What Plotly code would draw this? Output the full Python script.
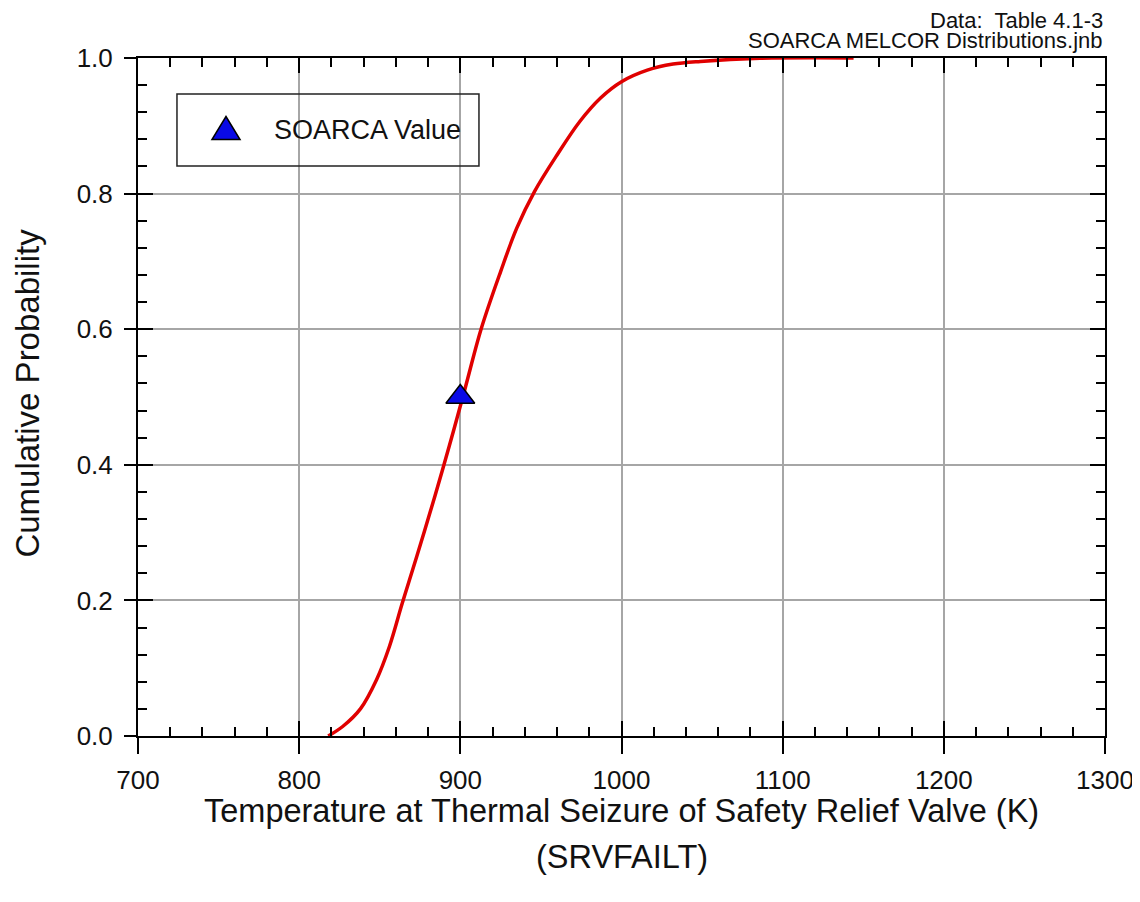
import plotly.graph_objects as go

# (temperature in K, cumulative probability)
temps = [818, 827, 838, 848, 856, 864, 873, 881, 889, 896, 903, 913, 925, 935, 946, 960,
         974, 987, 1000, 1016, 1032, 1049, 1086, 1144]
probs = [0.0, 0.014, 0.040, 0.083, 0.132, 0.196, 0.265, 0.328, 0.393, 0.452, 0.513, 0.601,
         0.685, 0.749, 0.803, 0.857, 0.906, 0.941, 0.965, 0.982, 0.991, 0.995, 0.9995, 1.0]

soarca_temp = [900]
soarca_prob = [0.5]

x_ticks = [700, 800, 900, 1000, 1100, 1200, 1300]
y_ticks = [0.0, 0.2, 0.4, 0.6, 0.8, 1.0]

FONT = "Arial, Liberation Sans, sans-serif"
TXT = "#111"
BLUE = "#0a0ae6"

fig = go.Figure()

fig.add_trace(go.Scatter(
    x=temps, y=probs, mode="lines",
    line=dict(color="#e00000", width=3.5, shape="spline", smoothing=1.0),
    showlegend=False, hoverinfo="skip",
))

fig.add_trace(go.Scatter(
    x=soarca_temp, y=soarca_prob, mode="markers", name="SOARCA Value",
    marker=dict(symbol="triangle-up", size=25, color=BLUE,
                line=dict(color="black", width=1.5)),
    showlegend=False,
))

# frame, inside ticks, grid
fig.update_xaxes(
    range=[700, 1300], tickvals=x_ticks, showticklabels=False, automargin=False,
    ticks="inside", ticklen=15, tickwidth=2, tickcolor="black",
    minor=dict(dtick=20, ticks="inside", ticklen=9, tickwidth=1.5, tickcolor="black", showgrid=False),
    showline=True, linecolor="black", linewidth=2, mirror="allticks",
    showgrid=True, gridcolor="#a6a6a6", gridwidth=1.5, zeroline=False,
)
fig.update_yaxes(
    range=[0, 1], tickvals=y_ticks, showticklabels=False, automargin=False,
    ticks="inside", ticklen=15, tickwidth=2, tickcolor="black",
    minor=dict(dtick=0.04, ticks="inside", ticklen=9, tickwidth=1.5, tickcolor="black", showgrid=False),
    showline=True, linecolor="black", linewidth=2, mirror="allticks",
    showgrid=True, gridcolor="#a6a6a6", gridwidth=1.5, zeroline=False,
)

fig.update_layout(
    width=1140, height=902,
    # page body adds 8px, margins compensate
    margin=dict(l=130, r=43, t=50, b=174),
    paper_bgcolor="white", plot_bgcolor="white",
    font=dict(family=FONT, color="black"),
    showlegend=False,
    # outside tick stubs + labels on bottom / left
    xaxis2=dict(overlaying="x", anchor="y", side="bottom", range=[700, 1300], automargin=False,
                tickvals=x_ticks, ticktext=[str(v) for v in x_ticks],
                ticks="outside", ticklen=17, tickwidth=2, tickcolor="black",
                showgrid=False, zeroline=False, showline=False,
                tickfont=dict(size=26, family=FONT, color=TXT), ticklabelstandoff=4),
    yaxis2=dict(overlaying="y", anchor="x", side="left", range=[0, 1], automargin=False,
                tickvals=y_ticks, ticktext=[f"{v:.1f}" for v in y_ticks],
                ticks="outside", ticklen=13, tickwidth=2, tickcolor="black",
                showgrid=False, zeroline=False, showline=False,
                tickfont=dict(size=26, family=FONT, color=TXT), ticklabelstandoff=6),
)

# empty trace so the overlay axes get a subplot
fig.add_trace(go.Scatter(x=[], y=[], xaxis="x2", yaxis="y2", showlegend=False))

# legend box with its symbol
fig.add_shape(type="rect", xref="paper", yref="paper",
              x0=0.0403, x1=0.3526, y0=0.8407, y1=0.9469,
              line=dict(color="#222", width=1.5), fillcolor="rgba(0,0,0,0)")
fig.add_shape(type="path", xref="paper", yref="paper",
              path="M 0.0765 0.8798 L 0.1055 0.8798 L 0.0910 0.9137 Z",
              line=dict(color="black", width=1.5), fillcolor=BLUE)
fig.add_annotation(text="SOARCA Value", xref="paper", yref="paper", x=0.1386, y=0.8938,
                   xanchor="left", yanchor="middle", showarrow=False,
                   font=dict(size=27, color=TXT))

fig.add_annotation(text="Temperature at Thermal Seizure of Safety Relief Valve (K)",
                   xref="paper", yref="paper", x=0.5, y=0, yshift=-75,
                   showarrow=False, font=dict(size=32.5, color=TXT), yanchor="middle")
fig.add_annotation(text="(SRVFAILT)",
                   xref="paper", yref="paper", x=0.5, y=0, yshift=-121,
                   showarrow=False, font=dict(size=32.5, color=TXT), yanchor="middle")
fig.add_annotation(text="Cumulative Probability", textangle=-90,
                   xref="paper", yref="paper", x=0, xshift=-110, y=0.505,
                   showarrow=False, font=dict(size=33, color=TXT), xanchor="center")
fig.add_annotation(text="Data:  Table 4.1-3",
                   xref="paper", yref="paper", x=1, y=1, yshift=38, xanchor="right",
                   yanchor="middle", showarrow=False, font=dict(size=22, color=TXT))
fig.add_annotation(text="SOARCA MELCOR Distributions.jnb",
                   xref="paper", yref="paper", x=1, y=1, yshift=18, xanchor="right",
                   yanchor="middle", showarrow=False, font=dict(size=22, color=TXT))

fig.write_html("out.html")
